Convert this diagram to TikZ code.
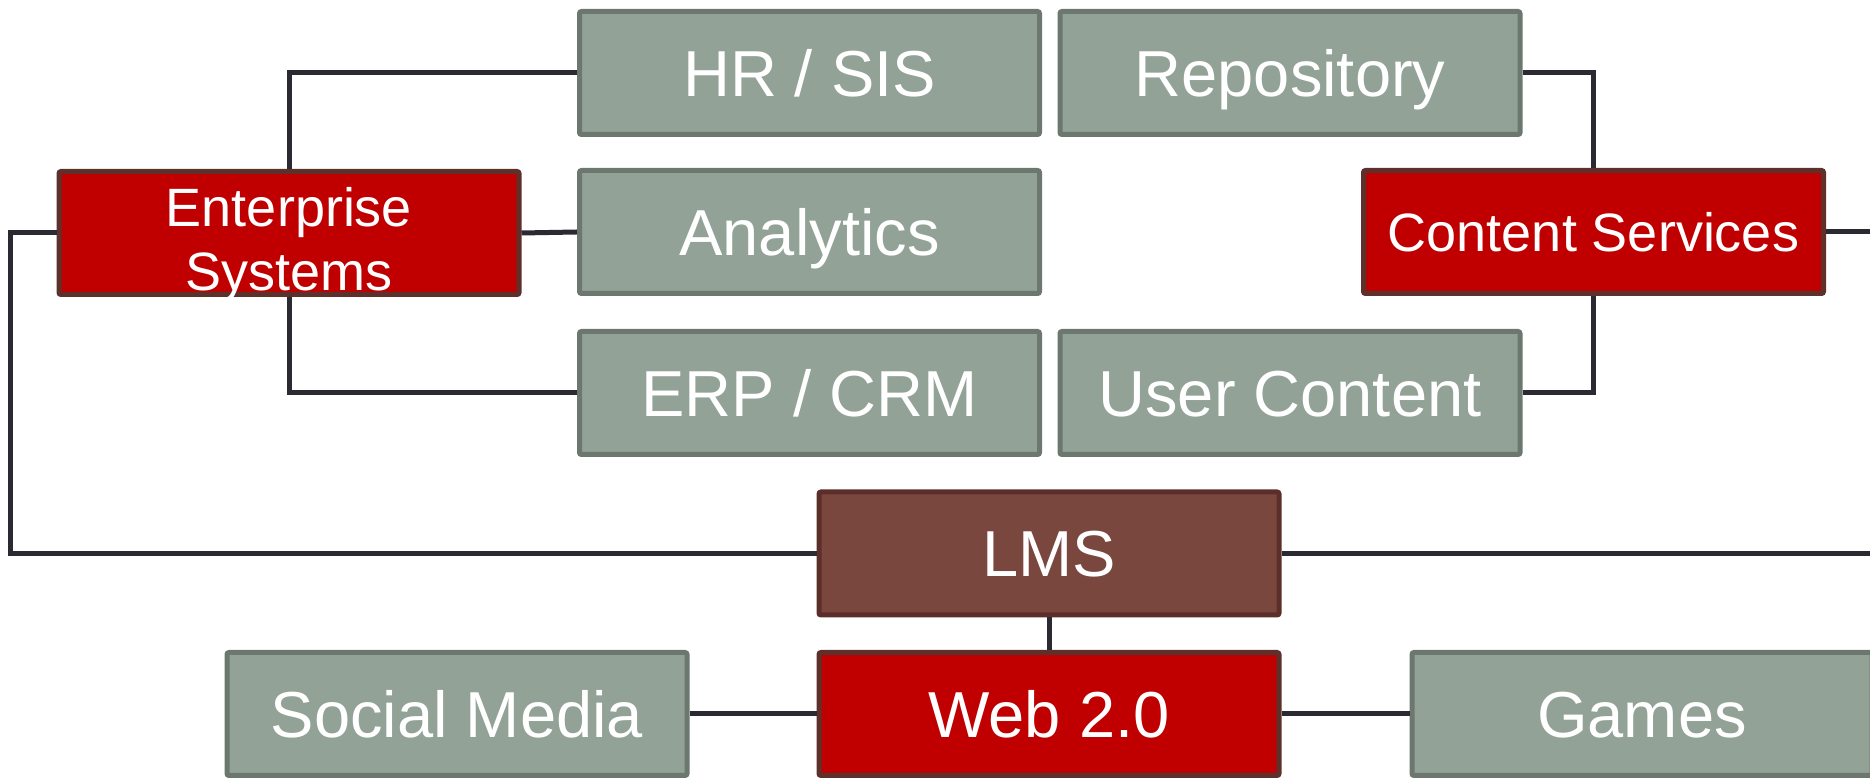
\documentclass[tikz,border=0pt]{standalone}
\usepackage{fontspec}
\setmainfont{Liberation Sans}
\definecolor{gfill}{RGB}{146,162,151}
\definecolor{gborder}{RGB}{108,120,111}
\definecolor{rfill}{RGB}{192,0,0}
\definecolor{rborder}{RGB}{94,48,44}
\definecolor{lfill}{RGB}{122,71,63}
\definecolor{lborder}{RGB}{92,46,42}
\definecolor{linec}{RGB}{43,42,51}
\begin{document}
\begin{tikzpicture}[x=0.5pt,y=-0.5pt,
  box/.style={draw, line width=2.5pt, rounded corners=1pt, minimum width=230pt,
    minimum height=61.5pt, inner sep=0pt, text=white, anchor=center,
    font=\fontsize{32.5}{38}\selectfont},
  oneline/.style={text height=23.3pt, text depth=0pt},
  graybox/.style={box, oneline, fill=gfill, draw=gborder},
  redbox/.style={box, fill=rfill, draw=rborder},
  lmsbox/.style={box, oneline, fill=lfill, draw=lborder},
  smalltext/.style={font=\fontsize{27}{32}\selectfont},
  conn/.style={draw=linec, line width=2.5pt}
]
\useasboundingbox (0,0) rectangle (1870,779);
\clip (0,0) rectangle (1870,779);

\node[graybox] (hr)  at (809.5,73) {HR / SIS};
\node[graybox] (rep) at (1290,73) {Repository};
\node[redbox, smalltext, align=center, text height=57.5pt, text depth=0pt] (ent) at (289,233) {Enterprise\\Systems};
\node[graybox] (ana) at (809.5,232) {Analytics};
\node[redbox, smalltext, text height=19.3pt, text depth=0pt] (cs) at (1593.5,232) {Content Services};
\node[graybox] (erp) at (809.5,393) {ERP / CRM};
\node[graybox] (uc)  at (1290,393) {User Content};
\node[lmsbox] (lms) at (1049,553.5) {LMS};
\node[graybox] (sm)  at (457,714) {Social Media};
\node[redbox, oneline] (web) at (1049,714) {Web 2.0};
\node[graybox] (gam) at (1642,714) {Games};

\coordinate (lft) at (10,0);
\coordinate (rgt) at (1880,0);

\draw[conn] (ent.north) |- (hr.west);
\draw[conn] (ent.south) |- (erp.west);
\draw[conn] (ent.east) -- (ana.west);
\draw[conn] (ent.west) -| (lft |- lms.west) -- (lms.west);
\draw[conn] (rep.east) -| (cs.north);
\draw[conn] (uc.east) -| (cs.south);
\draw[conn] (cs.east) -- (cs.east -| rgt);
\draw[conn] (lms.east) -- (lms.east -| rgt);
\draw[conn] (lms.south) -- (web.north);
\draw[conn] (sm.east) -- (web.west);
\draw[conn] (web.east) -- (gam.west);
\end{tikzpicture}
\end{document}
